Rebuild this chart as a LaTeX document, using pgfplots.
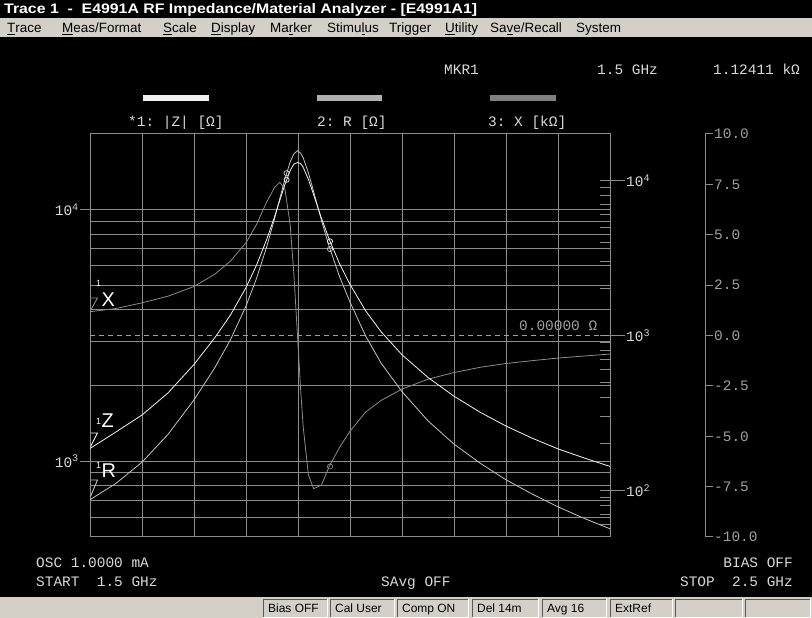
\documentclass[border=0pt]{standalone}
\usepackage{pgfplots}
\pgfplotsset{compat=1.18}
\usepackage{fontspec}
\usepackage{graphicx}
\setmainfont{Liberation Sans}
\setmonofont{Liberation Mono}
\definecolor{gridc}{HTML}{8C8C8C}
\definecolor{txtc}{HTML}{D8D8D8}
\definecolor{sclc}{HTML}{A0A0A0}
\definecolor{menubg}{HTML}{D4D0C8}
\definecolor{zcol}{HTML}{F4F4F4}
\definecolor{rcol}{HTML}{C4C4C4}
\definecolor{xcol}{HTML}{8C8C8C}
\newcommand{\mono}{\fontsize{14.5}{16}\ttfamily}
\newcommand{\menu}{\fontsize{13.5}{14}\selectfont}
\newcommand{\stat}{\fontsize{12}{13}\selectfont}

\pgfplotstableread{
f Z
1.500 1124
1.550 1308
1.600 1527
1.650 1869
1.700 2426
1.740 3097
1.770 3810
1.800 4902
1.820 6003
1.840 7632
1.855 9394
1.865 10893
1.875 12625
1.885 14319
1.892 15179
1.899 15400
1.905 15263
1.910 14748
1.920 13197
1.930 11483
1.945 9269
1.960 7622
1.980 6092
2.000 5048
2.030 3965
2.060 3269
2.100 2650
2.150 2153
2.200 1814
2.250 1567
2.300 1380
2.350 1236
2.400 1120
2.450 1031
2.500 954
}\ztable

\pgfplotstableread{
f R
1.500 87
1.550 111
1.600 152
1.650 230
1.700 384
1.740 619
1.770 937
1.800 1550
1.820 2325
1.840 3757
1.855 5690
1.865 7658
1.875 10285
1.885 13229
1.892 14864
1.899 15600
1.905 15031
1.910 14032
1.920 11236
1.930 8507
1.945 5542
1.960 3748
1.980 2394
2.000 1644
2.030 994
2.060 661
2.100 434
2.150 281
2.200 199
2.250 150
2.300 117
2.350 94.8
2.400 78.3
2.450 66.0
2.500 56.5
}\rtable

\pgfplotstableread{
f X
1.500 1.18
1.550 1.34
1.600 1.62
1.650 1.95
1.700 2.43
1.740 3.04
1.770 3.69
1.800 4.60
1.820 5.50
1.840 6.64
1.855 7.35
1.865 7.60
1.875 7.25
1.885 5.48
1.892 3.08
1.899 0.00
1.905 -2.66
1.910 -4.54
1.920 -6.92
1.930 -7.60
1.945 -7.43
1.960 -6.50
1.980 -5.55
2.000 -4.75
2.030 -3.80
2.060 -3.22
2.100 -2.66
2.150 -2.17
2.200 -1.84
2.250 -1.58
2.300 -1.39
2.350 -1.25
2.400 -1.12
2.450 -1.02
2.500 -0.92
}\xtable

\pgfplotsset{
  scrbox/.style={at={(90bp,81bp)}, anchor=south west, scale only axis, width=520bp, height=403bp, xmin=1.5, xmax=2.5},
}

\begin{document}
\begin{tikzpicture}[x=1bp,y=1bp]
% screen background
\fill[black] (0,0) rectangle (812,618);
% title bar
\node[anchor=base west, inner sep=0, text=white] at (4,604)
  {\resizebox{473bp}{10bp}{\bfseries Trace 1\ \ -\ \ E4991A RF Impedance/Material Analyzer - [E4991A1]}};
% menu bar
\fill[menubg] (0,581) rectangle (812,599.5);
\begin{scope}[every node/.style={anchor=base west, inner sep=0, text=black, font=\menu}]
\node at (7,585) {\underline{T}race};
\node at (62,585) {\underline{M}eas/Format};
\node at (163,585) {\underline{S}cale};
\node at (211,585) {\underline{D}isplay};
\node at (270,585) {Ma\underline{r}ker};
\node at (327,585) {Stimu\underline{l}us};
\node at (389,585) {Trigger};
\node at (445,585) {\underline{U}tility};
\node at (490,585) {Sa\underline{v}e/Recall};
\node at (576,585) {S\underline{y}stem};
\end{scope}
% status bar
\fill[menubg] (0,0) rectangle (812,20.5);
\foreach \a/\b/\t in {263/327/Bias OFF,330/394/Cal User,397/468/Comp ON,472/538/Del 14m,542/606/Avg 16,610/672/ExtRef,675/742/,745/810/}{
  \draw[gray!70!black, line width=0.8bp] (\a,1) -- (\a,19) -- (\b,19);
  \draw[white, line width=0.8bp] (\a,1) -- (\b,1) -- (\b,19);
  \node[anchor=base west, inner sep=0, text=black, font=\stat] at (\a+5,5) {\t};
}

% grid axis (trace 1 scale)
\begin{axis}[scrbox, ymode=log, ymin=500, ymax=20000,
  xtick={1.6,1.7,1.8,1.9,2.0,2.1,2.2,2.3,2.4}, xticklabels={}, xmajorgrids,
  ytick={500,600,700,800,900,1000,2000,3000,4000,5000,6000,7000,8000,9000,10000},
  yticklabels={}, ymajorgrids,
  axis line style={gridc, line width=1bp},
  major grid style={gridc, line width=1bp},
  tick style={draw=none},
  extra y ticks={1000,10000},
  extra y tick labels={10\textsuperscript{3},10\textsuperscript{4}},
  extra y tick style={tick style={draw=gridc, line width=1bp}, major tick length=10bp, tick align=outside, ytick pos=left},
  yticklabel style={font=\mono, text=txtc, inner sep=1bp},
]
\end{axis}

% trace 2: R
\begin{axis}[scrbox, ymode=log, ymin=50, ymax=20000,
  axis line style={draw=none}, xtick=\empty,
  ytick={60,70,80,90,100,200,300,400,500,600,700,800,900,1000,2000,3000,4000,5000,6000,7000,8000,9000,10000},
  yticklabels={},
  ytick pos=right, tick align=inside,
  tick style={gridc, line width=1bp}, major tick length=10bp,
  extra y ticks={100,1000,10000},
  extra y tick labels={10\textsuperscript{2},10\textsuperscript{3},10\textsuperscript{4}},
  extra y tick style={tick align=outside, major tick length=15bp},
  yticklabel style={font=\mono, text=txtc, inner sep=1bp},
]
\addplot[rcol, line width=0.8bp] table[x=f, y=R] {\rtable};
\addplot[rcol, only marks, mark=o, mark size=2.6bp, mark options={line width=0.7bp}] coordinates {(1.878,11169) (1.9615,3614)};
\end{axis}

% trace 3: X
\begin{axis}[scrbox, ymin=-10, ymax=10, hide axis]
\addplot[sclc, line width=0.9bp, dash pattern=on 5bp off 4bp] coordinates {(1.5,0) (2.5,0)};
\addplot[xcol, line width=0.8bp] table[x=f, y=X] {\xtable};
\addplot[xcol, only marks, mark=o, mark size=2.6bp, mark options={line width=0.7bp}] coordinates {(1.9615,-6.5)};
\end{axis}

% X scale
\begin{axis}[at={(695bp,81bp)}, anchor=south west, scale only axis, width=10bp, height=403bp,
  xmin=0, xmax=1, ymin=-10, ymax=10,
  axis x line=none, axis y line*=right, xtick=\empty,
  ytick={-10,-7.5,-5,-2.5,0,2.5,5,7.5,10},
  yticklabels={-10.0,-7.5,-5.0,-2.5,0.0,2.5,5.0,7.5,10.0},
  axis line style={gridc, line width=1bp},
  tick style={gridc, line width=1bp}, tick align=outside, major tick length=8bp,
  yticklabel style={font=\mono, text=sclc, inner sep=1bp},
]
\end{axis}

% trace 1: |Z|
\begin{axis}[scrbox, ymode=log, ymin=500, ymax=20000, hide axis]
\addplot[zcol, line width=0.8bp] table[x=f, y=Z] {\ztable};
\addplot[zcol, only marks, mark=o, mark size=2.6bp, mark options={line width=0.7bp}] coordinates {(1.878,13157) (1.9615,7484)};
\end{axis}

% marker flags at the sweep start
\draw[zcol, line width=0.9bp] (90.5,171.5) -- (97.5,185) -- (90.5,185);
\draw[rcol, line width=0.9bp] (90.5,121.5) -- (97.5,138) -- (90.5,138);
\draw[xcol, line width=0.9bp] (90.5,307.5) -- (97.5,320) -- (90.5,320);
% marker labels
\node[anchor=base west, inner sep=0, text=white, font=\fontsize{9}{10}\selectfont] at (96,193) {1};
\node[anchor=base west, inner sep=0, text=white, font=\fontsize{20}{22}\selectfont] at (101.5,190) {Z};
\node[anchor=base west, inner sep=0, text=white, font=\fontsize{9}{10}\selectfont] at (96,149) {1};
\node[anchor=base west, inner sep=0, text=white, font=\fontsize{20}{22}\selectfont] at (101.5,140) {R};
\node[anchor=base west, inner sep=0, text=white, font=\fontsize{9}{10}\selectfont] at (96,331) {1};
\node[anchor=base west, inner sep=0, text=white, font=\fontsize{20}{22}\selectfont] at (101.5,311.5) {X};

% header texts
\begin{scope}[every node/.style={anchor=base west, inner sep=0, text=txtc, font=\mono}]
\node at (444,543) {MKR1};
\node at (597,543) {1.5 GHz};
\node at (713,543) {1.12411 kΩ};
\node at (128,491) {*1: |Z| [Ω]};
\node at (317,491) {2: R [Ω]};
\node at (488,491) {3: X [kΩ]};
\node at (36,50) {OSC 1.0000 mA};
\node at (36,31) {START\ \ 1.5 GHz};
\node at (381,31) {SAvg OFF};
\node[anchor=base east] at (793,50) {BIAS OFF};
\node[anchor=base east] at (793,31) {STOP\ \ 2.5 GHz};
\node[text=sclc] at (519,287) {0.00000 Ω};
\end{scope}
% legend bars
\fill[white!94!black] (143,517) rectangle (209,523);
\fill[rcol!90!black] (317,517) rectangle (382,523);
\fill[gray] (490,517) rectangle (556,523);
\end{tikzpicture}
\end{document}
